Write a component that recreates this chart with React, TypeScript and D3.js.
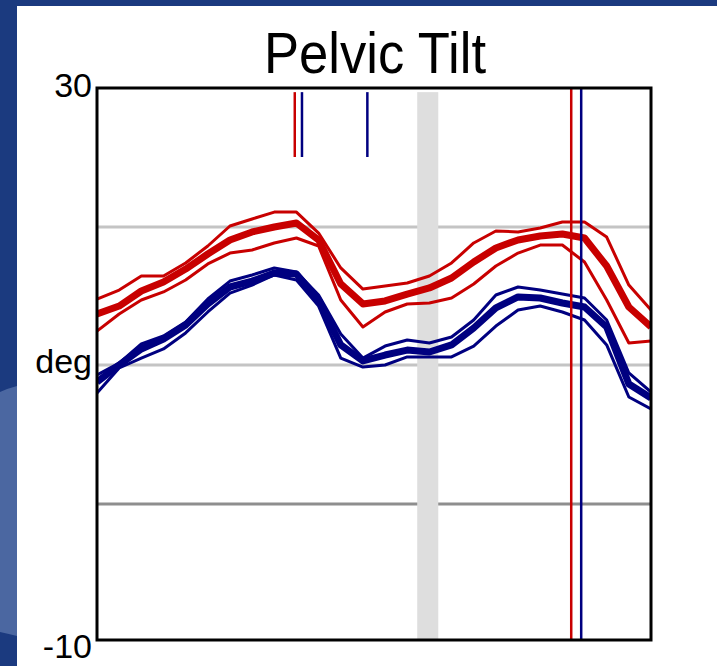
import * as React from "react";
import * as d3 from "d3";

// gait cycle (%) sampled every 4%
const cyclePct = [0, 4, 8, 12, 16, 20, 24, 28, 32, 36, 40, 44, 48, 52, 56, 60, 64, 68, 72, 76, 80, 84, 88, 92, 96, 100];

// left side (red): mean and +/- 1 SD
const redUpper = [14.71, 15.36, 16.38, 16.38, 17.32, 18.55, 20.0, 20.51, 21.01, 21.01, 19.49, 16.96, 15.43, 15.65, 15.87, 16.38, 17.32, 18.77, 19.64, 19.57, 19.86, 20.29, 20.29, 19.2, 15.72, 13.91];
const redMean = [13.62, 14.2, 15.29, 15.94, 16.88, 17.97, 18.99, 19.57, 19.93, 20.22, 18.99, 15.8, 14.35, 14.57, 15.07, 15.51, 16.23, 17.39, 18.41, 18.99, 19.28, 19.42, 19.13, 17.1, 14.13, 12.68];
const redLower = [12.39, 13.62, 14.64, 15.22, 16.09, 17.25, 18.04, 18.26, 18.77, 19.13, 18.55, 14.64, 12.68, 13.77, 14.35, 14.42, 14.78, 15.8, 17.1, 18.04, 18.62, 18.62, 17.39, 14.64, 11.52, 11.67];

// right side (blue): mean and +/- 1 SD
const blueUpper = [9.2, 10.07, 11.45, 12.03, 13.04, 14.71, 16.01, 16.45, 16.96, 16.67, 15.0, 12.17, 10.43, 11.3, 11.74, 11.52, 11.96, 13.19, 15.0, 15.58, 15.36, 15.07, 14.78, 13.19, 9.35, 7.97];
const blueMean = [8.7, 9.93, 11.09, 11.81, 12.83, 14.35, 15.58, 16.01, 16.59, 16.52, 14.64, 11.38, 10.22, 10.65, 11.01, 10.87, 11.38, 12.61, 14.06, 14.86, 14.78, 14.42, 14.13, 12.68, 8.55, 7.54];
const blueLower = [7.9, 9.71, 10.43, 11.09, 12.25, 13.77, 15.14, 15.72, 16.45, 16.09, 14.2, 10.43, 9.78, 9.93, 10.51, 10.51, 10.51, 11.3, 12.75, 13.91, 14.2, 13.77, 13.19, 11.38, 7.61, 6.74];

// events (% of cycle)
const redTicks = [35.7];
const blueTicks = [37.0, 48.8];
const redFootOff = [85.6];
const blueFootOff = [87.4];
const normalBand = [57.8, 61.6];

const yTicks = [30, -10];
const gridLight = [20, 10];
const gridDark = [0];

const RED = "#c80000";
const BLUE = "#000080";

export default function App() {
  const W = 717, H = 666;
  const x = d3.scaleLinear().domain([0, 100]).range([97, 651]);
  const y = d3.scaleLinear().domain([-10, 30]).range([640, 88]);

  const line = d3.line<number>()
    .x((d, i) => x(cyclePct[i]))
    .y(d => y(d))
    .curve(d3.curveLinear);

  const series = [
    { v: redUpper, c: RED, w: 3 },
    { v: redLower, c: RED, w: 3 },
    { v: redMean, c: RED, w: 7 },
    { v: blueUpper, c: BLUE, w: 3 },
    { v: blueLower, c: BLUE, w: 3 },
    { v: blueMean, c: BLUE, w: 7 },
  ];

  const font = "'Liberation Sans', Arial, sans-serif";

  return (
    <div style={{ position: "absolute", left: 0, top: 0 }}>
      <svg width={W} height={H} style={{ display: "block" }}>
        <rect x={0} y={0} width={W} height={H} fill="#1b3a7f" />
        <path d="M0,392 Q9,388 17,386 L17,636 Q9,634 0,632 Z" fill="#4b67a1" />
        <rect x={17} y={6} width={W - 17} height={H - 6} fill="#ffffff" />

        <clipPath id="plot">
          <rect x={x(0)} y={y(30)} width={x(100) - x(0)} height={y(-10) - y(30)} />
        </clipPath>

        {gridLight.map(g => (
          <line key={"gl" + g} x1={x(0)} x2={x(100)} y1={y(g) + 1} y2={y(g) + 1} stroke="#c4c4c4" strokeWidth={3} />
        ))}
        {gridDark.map(g => (
          <line key={"gd" + g} x1={x(0)} x2={x(100)} y1={y(g) + 2} y2={y(g) + 2} stroke="#8e8e8e" strokeWidth={3} />
        ))}

        <rect x={x(normalBand[0])} y={y(29.7)} width={x(normalBand[1]) - x(normalBand[0])}
          height={y(-10) - y(29.7)} fill="#dedede" />

        <g clipPath="url(#plot)">
          {series.map((s, i) => (
            <path key={i} d={line(s.v) || ""} fill="none" stroke={s.c} strokeWidth={s.w}
              strokeLinejoin="round" />
          ))}
        </g>

        {redTicks.map(t => (
          <line key={"rt" + t} x1={x(t)} x2={x(t)} y1={y(29.7)} y2={y(25)} stroke={RED} strokeWidth={2.5} />
        ))}
        {blueTicks.map(t => (
          <line key={"bt" + t} x1={x(t)} x2={x(t)} y1={y(29.7)} y2={y(25)} stroke={BLUE} strokeWidth={2.5} />
        ))}
        {redFootOff.map(t => (
          <line key={"rf" + t} x1={x(t)} x2={x(t)} y1={y(30)} y2={y(-10)} stroke={RED} strokeWidth={2.5} />
        ))}
        {blueFootOff.map(t => (
          <line key={"bf" + t} x1={x(t)} x2={x(t)} y1={y(30)} y2={y(-10)} stroke={BLUE} strokeWidth={2.5} />
        ))}

        <rect x={x(0)} y={y(30)} width={x(100) - x(0)} height={y(-10) - y(30)}
          fill="none" stroke="#000" strokeWidth={3} />

        <text x={375} y={73} textAnchor="middle" fontFamily={font} fontSize={57}
          textLength={222} lengthAdjust="spacingAndGlyphs" fill="#000">Pelvic Tilt</text>

        <text x={92} y={y(yTicks[0]) + 9} textAnchor="end" fontFamily={font} fontSize={34} fill="#000">{yTicks[0]}</text>
        <text x={92} y={y(yTicks[1]) + 18} textAnchor="end" fontFamily={font} fontSize={34} fill="#000">{yTicks[1]}</text>
        <text x={92} y={y(10) + 9} textAnchor="end" fontFamily={font} fontSize={34} fill="#000">deg</text>
      </svg>
    </div>
  );
}
